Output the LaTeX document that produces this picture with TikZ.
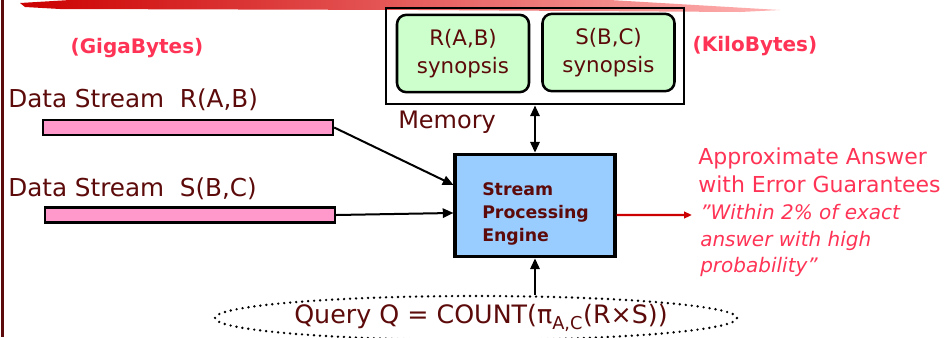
\documentclass[tikz,border=0pt]{standalone}
\usepackage{fontspec}
\setmainfont{DejaVu Sans}
\usetikzlibrary{arrows.meta,shapes.geometric}
\definecolor{ink}{HTML}{5C0A0A}
\definecolor{hot}{HTML}{FF3355}
\definecolor{outred}{HTML}{CC0000}
\definecolor{synfill}{HTML}{CCFFCC}
\definecolor{engfill}{HTML}{99CCFF}
\definecolor{barfill}{HTML}{FF99CC}
\begin{document}
\begin{tikzpicture}[x=0.75pt,y=-0.75pt,
  >={Triangle[length=8pt,width=7pt]},
  txt/.style={inner sep=0pt,text=ink},
  synbox/.style={draw=black,line width=1.9pt,rounded corners=7pt,fill=synfill,
    minimum width=99pt,minimum height=58pt,align=center,text=ink,
    font=\fontsize{16}{21}\selectfont},
  bar/.style={draw=black,line width=1.8pt,fill=barfill,minimum width=217.5pt,
    minimum height=11.5pt,inner sep=0pt},
  link/.style={line width=1.5pt,->},
  sizenote/.style={inner sep=0pt,text=hot,font=\fontsize{15}{18}\selectfont\bfseries}]
\useasboundingbox (0,0) rectangle (951,337);

% brush stroke along the top edge and the dark rule on the left
\shade[left color=red!80!black,right color=red!30!white]
  (20,3) -- (70,0) -- (610,0) -- (780,10) -- (740,12) -- (420,10) -- (60,9) -- (25,7) -- cycle;
\fill[ink] (1,0) rectangle (3.5,337);

% memory with the two synopses
\node[draw=black,line width=2.2pt,minimum width=223.5pt,minimum height=72pt,inner sep=0pt]
  (memory) at (535,56) {};
\node[synbox] (rsyn) at (463,53.5) {R(A,B)\\synopsis};
\node[synbox] (ssyn) at (608.5,52.5) {S(B,C)\\synopsis};
\node[txt,anchor=west,font=\fontsize{18}{21}\selectfont] (memlabel) at (398,122) {Memory};

\node[sizenote] (giga) at (137,48) {(GigaBytes)};
\node[sizenote] (kilo) at (755,46) {(KiloBytes)};

% processing engine
\node[draw=black,line width=2.3pt,fill=engfill,minimum width=120pt,minimum height=77pt,inner sep=0pt]
  (engine) at (535,205.5) {};
\node[txt,anchor=west,align=left,font=\fontsize{13}{17.5}\selectfont\bfseries] (enginetext)
  at (482,214) {Stream\\Processing\\Engine};

% input streams
\node[txt,anchor=west,font=\fontsize{18.5}{22}\selectfont] (rlabel) at (8,100) {Data Stream\ \ R(A,B)};
\node[txt,anchor=west,font=\fontsize{18.5}{22}\selectfont] (slabel) at (8,189) {Data Stream\ \ S(B,C)};
\node[bar] (rbar) at (188,127.5) {};
\node[bar] (sbar) at (190,215) {};

\coordinate (inR) at ([yshift=15.4pt]engine.west);
\coordinate (inS) at ([yshift=-5.6pt]engine.west);
\coordinate (outP) at ([yshift=-7.1pt]engine.east);
\coordinate (ansTip) at (692,215);

\draw[link] (rbar.east) -- (inR);
\draw[link] (sbar.east) -- (inS);
\draw[line width=1.5pt,<->] (memory.south) -- (engine.north);
\draw[line width=1.8pt,draw=outred,-{Triangle[length=6pt,width=5pt]}] (outP) -- (ansTip);

% approximate answer
\node[inner sep=0pt,anchor=north west,align=left,text=hot,font=\fontsize{16.5}{21}\selectfont]
  (answer) at (698,148) {Approximate Answer\\with Error Guarantees};
\node[inner sep=0pt,anchor=north west,align=left,text=hot,font=\fontsize{15}{20}\selectfont\itshape]
  (bound) at (700,204) {"Within 2\% of exact\\answer with high\\probability"};

% query
\node[draw=black,line width=2pt,line cap=round,dash pattern=on 0pt off 4.5pt,ellipse,
  minimum width=391.5pt,minimum height=33pt,inner sep=0pt] (query) at (476,318) {};
\node[txt,font=\fontsize{19}{22}\selectfont] (querytext) at (481,318)
  {Query Q = COUNT(π\textsubscript{A,C}(R×S))};
\draw[link] (engine.south |- query.north) -- (engine.south);
\end{tikzpicture}
\end{document}
